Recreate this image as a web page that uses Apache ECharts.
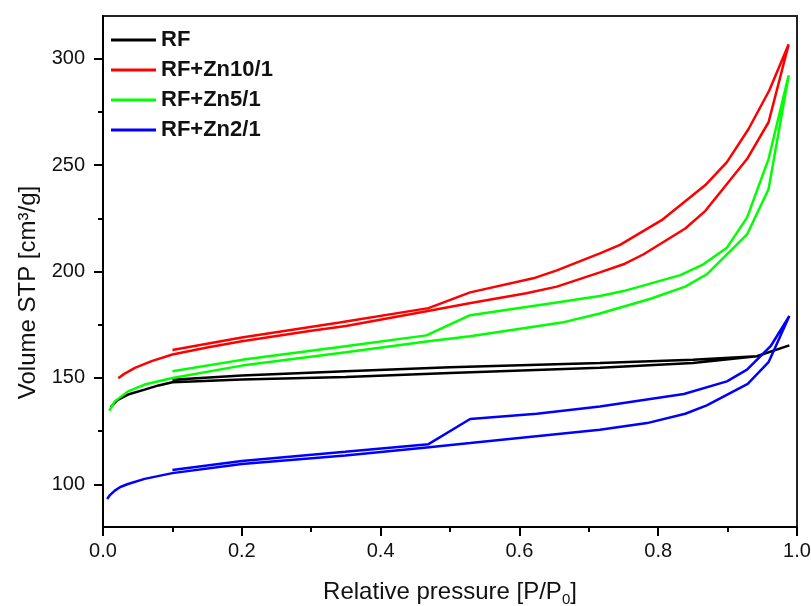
<!DOCTYPE html>
<html>
<head>
<meta charset="utf-8">
<title>Isotermy RF</title>
<script src="https://cdn.jsdelivr.net/npm/echarts@6/dist/echarts.min.js"></script>
<style>
  html, body { margin: 0; padding: 0; background: #fff; }
  #chart { width: 811px; height: 606px; }
</style>
</head>
<body>
<div id="chart"></div>
<script>
// nazwy probek (legenda)
var names = ['RF', 'RF+Zn10/1', 'RF+Zn5/1', 'RF+Zn2/1'];

// osie
var yMajor = [100, 150, 200, 250, 300];
var yMinor = [125, 175, 225, 275];

// RF - adsorpcja / desorpcja
var rfAdsP = [0.011, 0.02, 0.036, 0.06, 0.08, 0.1, 0.2, 0.35, 0.5, 0.716, 0.85, 0.942, 0.989];
var rfAdsV = [136.2, 139.5, 142.2, 144.5, 146.5, 148.0, 149.3, 150.5, 152.3, 154.8, 157.0, 160.2, 165.3];
var rfDesP = [0.989, 0.942, 0.85, 0.716, 0.5, 0.35, 0.2, 0.1];
var rfDesV = [165.3, 160.2, 158.5, 157.0, 155.0, 153.1, 151.2, 149.2];

// RF+Zn10/1
var zn10AdsP = [0.022, 0.03, 0.046, 0.07, 0.1, 0.15, 0.2, 0.3, 0.35, 0.47, 0.53, 0.61, 0.654, 0.716, 0.75, 0.779, 0.839, 0.868, 0.928, 0.959, 0.988];
var zn10AdsV = [149.9, 151.8, 154.7, 157.9, 161.0, 164.3, 167.2, 172.2, 174.4, 181.6, 185.2, 189.8, 192.9, 199.6, 203.4, 208.1, 220.2, 228.5, 252.8, 270.1, 306.7];
var zn10DesP = [0.988, 0.96, 0.93, 0.899, 0.868, 0.805, 0.745, 0.716, 0.654, 0.62, 0.529, 0.469, 0.341, 0.2, 0.1];
var zn10DesV = [306.7, 285.0, 266.8, 251.4, 240.6, 224.1, 212.5, 208.5, 200.5, 196.8, 190.2, 182.8, 176.0, 169.0, 163.1];

// RF+Zn5/1
var zn5AdsP = [0.009, 0.017, 0.036, 0.06, 0.1, 0.2, 0.35, 0.466, 0.529, 0.661, 0.716, 0.789, 0.839, 0.87, 0.928, 0.959, 0.988];
var zn5AdsV = [134.6, 139.0, 143.7, 146.9, 150.0, 155.8, 162.1, 167.1, 169.6, 176.0, 180.3, 187.2, 192.9, 198.7, 217.4, 238.6, 292.1];
var zn5DesP = [0.988, 0.959, 0.928, 0.899, 0.865, 0.832, 0.75, 0.716, 0.649, 0.529, 0.466, 0.341, 0.2, 0.1];
var zn5DesV = [292.1, 252.8, 225.3, 211.2, 203.4, 198.3, 190.8, 188.5, 185.2, 179.5, 170.0, 164.5, 158.5, 153.1];

// RF+Zn2/1
var zn2AdsP = [0.006, 0.01, 0.017, 0.025, 0.036, 0.06, 0.1, 0.2, 0.349, 0.47, 0.529, 0.716, 0.784, 0.839, 0.87, 0.929, 0.959, 0.989];
var zn2AdsV = [93.2, 95.0, 97.1, 98.8, 100.2, 102.6, 105.3, 109.6, 113.6, 117.5, 119.4, 125.7, 128.8, 133.2, 137.1, 147.2, 157.4, 179.1];
var zn2DesP = [0.989, 0.962, 0.928, 0.899, 0.837, 0.716, 0.625, 0.529, 0.469, 0.349, 0.2, 0.1];
var zn2DesV = [179.1, 164.9, 153.9, 148.4, 142.5, 136.6, 133.2, 130.7, 118.9, 115.3, 111.0, 106.8];

// petla: adsorpcja w gore, desorpcja w dol
function loop(aP, aV, dP, dV) {
  var out = [];
  for (var i = 0; i < aP.length; i++) out.push([aP[i], aV[i]]);
  for (var j = 0; j < dP.length; j++) out.push([dP[j], dV[j]]);
  return out;
}

var font = 'Liberation Sans, Arial, sans-serif';

function line(name, data, color) {
  return {
    name: name,
    type: 'line',
    data: data,
    symbol: 'none',
    showSymbol: false,
    color: color,
    lineStyle: { width: 2.5, color: color },
    xAxisIndex: 0,
    yAxisIndex: 0
  };
}

var chart = echarts.init(document.getElementById('chart'));

var option = {
  animation: false,
  backgroundColor: '#fff',
  grid: {
    left: 103, right: 14, top: 16, bottom: 79,
    outerBoundsMode: 'none',
    containLabel: false,
    show: true, borderColor: '#222', borderWidth: 2, backgroundColor: 'transparent'
  },
  legend: {
    data: names,
    orient: 'vertical',
    left: 111,
    top: 29,
    padding: 0,
    icon: 'rect',
    itemWidth: 45,
    itemHeight: 3,
    itemGap: 8,
    textStyle: { fontSize: 22, fontWeight: 'bold', color: '#111', fontFamily: font, lineHeight: 22 }
  },
  xAxis: {
    type: 'value',
    min: 0,
    max: 1,
    interval: 0.2,
    name: '{n|Relative pressure [P/P}{s|0}{n|]}',
    nameLocation: 'middle',
    nameGap: 50,
    nameTextStyle: {
      rich: {
        n: { fontSize: 24, color: '#111', fontFamily: font, lineHeight: 30 },
        s: { fontSize: 15, color: '#111', fontFamily: font, verticalAlign: 'bottom', lineHeight: 15 }
      }
    },
    axisLine: { show: true, lineStyle: { color: '#000', width: 2 } },
    axisTick: { show: true, length: 9, lineStyle: { color: '#000', width: 2 } },
    minorTick: { show: true, splitNumber: 2, length: 5, lineStyle: { color: '#000', width: 2 } },
    axisLabel: {
      fontSize: 20, color: '#111', fontFamily: font, margin: 14,
      formatter: function (v) { return v.toFixed(1); }
    },
    splitLine: { show: false }
  },
  yAxis: [
    {
      type: 'value',
      min: 80,
      max: 320,
      position: 'left',
      name: 'Volume STP [cm\u00B3/g]',
      nameLocation: 'middle',
      nameGap: 62,
      nameTextStyle: { fontSize: 24, color: '#111', fontFamily: font, padding: [0, 42, 0, 0] },
      axisLine: { show: true, lineStyle: { color: '#000', width: 2 } },
      axisTick: { show: true, length: 9, customValues: yMajor, lineStyle: { color: '#000', width: 2 } },
      axisLabel: { customValues: yMajor, fontSize: 20, color: '#111', fontFamily: font, margin: 18 },
      splitLine: { show: false }
    },
    {
      // drobne kreski osi Y
      type: 'value',
      min: 80,
      max: 320,
      position: 'left',
      offset: 0,
      axisLine: { show: false },
      axisTick: { show: true, length: 5, customValues: yMinor, lineStyle: { color: '#000', width: 2 } },
      axisLabel: { show: false },
      splitLine: { show: false }
    }
  ],
  series: [
    line(names[0], loop(rfAdsP, rfAdsV, rfDesP, rfDesV), '#000000'),
    line(names[1], loop(zn10AdsP, zn10AdsV, zn10DesP, zn10DesV), '#ff0000'),
    line(names[2], loop(zn5AdsP, zn5AdsV, zn5DesP, zn5DesV), '#00ff00'),
    line(names[3], loop(zn2AdsP, zn2AdsV, zn2DesP, zn2DesV), '#0000ff')
  ]
};

option && chart.setOption(option);
</script>
</body>
</html>
